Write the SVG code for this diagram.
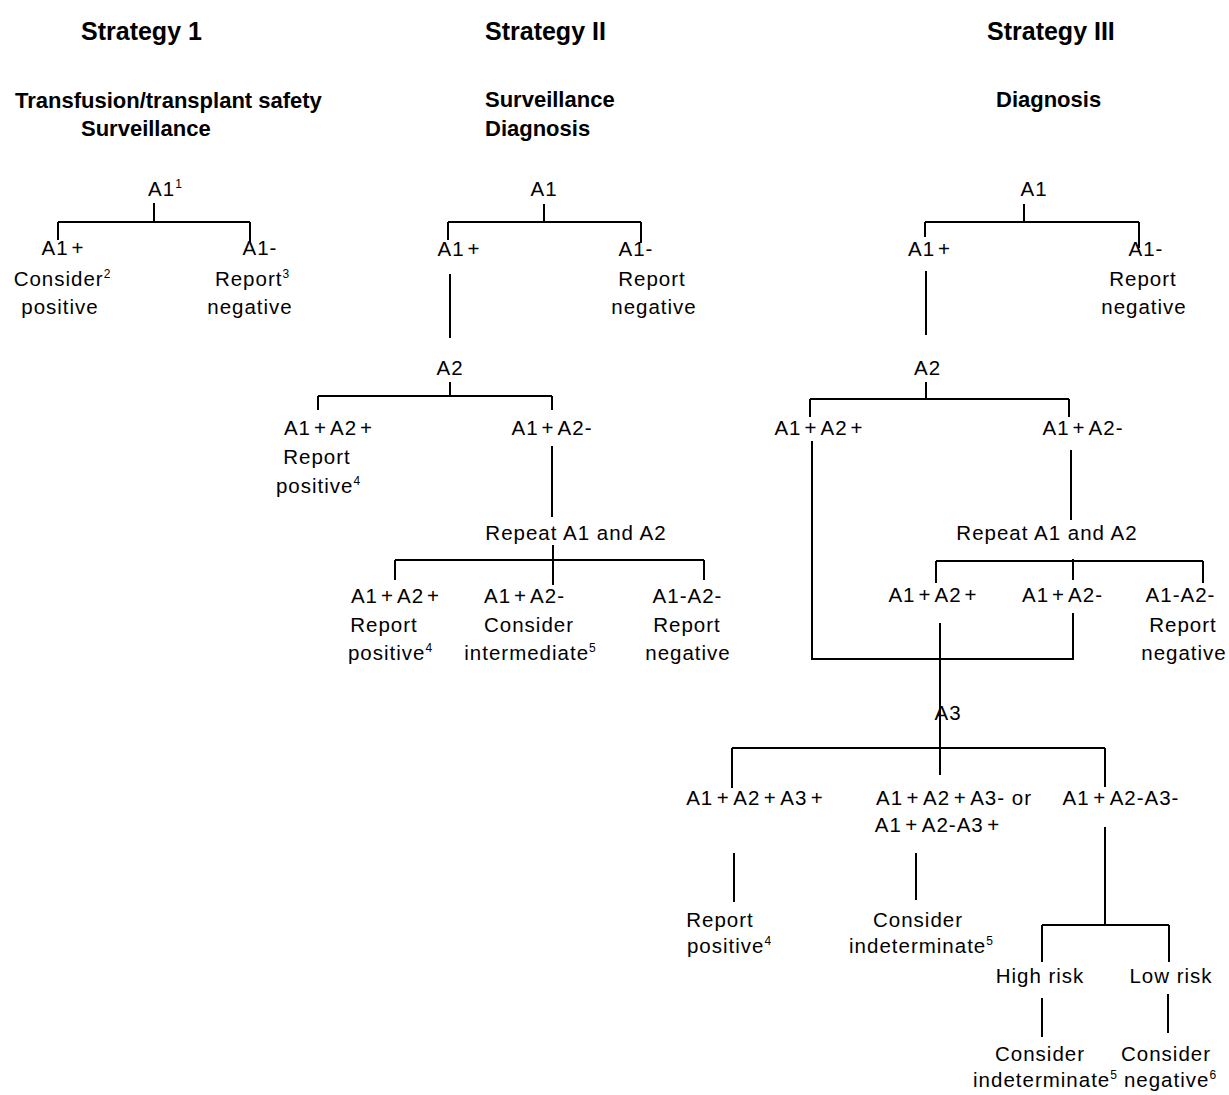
<svg xmlns="http://www.w3.org/2000/svg" width="1229" height="1095" viewBox="0 0 1229 1095">
<style>
text{font-family:"Liberation Sans",Arial,sans-serif;fill:#000}
.h{font-weight:bold;font-size:25px}
.s{font-weight:bold;font-size:22px}
.t{font-size:20.5px;letter-spacing:1px;text-anchor:middle}
.sup{font-size:12px;letter-spacing:0}
.c path{fill:none;stroke:#000;stroke-width:2}
</style>
<rect width="1229" height="1095" fill="#fff"/>
<g id="headers">
<text class="h" x="81" y="40">Strategy 1</text>
<text class="h" x="485" y="40">Strategy II</text>
<text class="h" x="987" y="40">Strategy III</text>
<text class="s" x="15" y="108">Transfusion/transplant safety</text>
<text class="s" x="81" y="136">Surveillance</text>
<text class="s" x="485" y="107">Surveillance</text>
<text class="s" x="485" y="136">Diagnosis</text>
<text class="s" x="996" y="107">Diagnosis</text>
</g>
<g class="c" id="connectors">
<path d="M154 203V222M58 222H250M58 222V240M250 222V242"/>
<path d="M544 204V222M448 222H641M448 222V240M641 222V243M450 274V338M450 382V396M318 396H552M318 396V410M552 396V410M552 446V517M553 545V585M395 560H704M395 560V580M704 560V580"/>
<path d="M1024 204V222M925 222H1139M925 222V237M1139 222V248M926 271V335M926 382V399M810 399H1069M810 399V417M1069 399V417M812 441V659H1073V613M1071 450V520M936 561H1203M936 561V583M1203 561V583M1073 559V580M940 623V775M732 748H1105M732 748V788M1105 748V787M734 853V902M916 853V900M1105 827V925M1042 925H1169M1042 925V962M1169 925V962M1042 998V1037M1168 994V1033"/>
</g>
<g id="s1-a1"><text class="t" x="165" y="196">A1<tspan class="sup" dy="-8">1</tspan></text></g>
<g id="s1-pos"><text class="t" x="63" y="255">A1<tspan dx="3">+</tspan></text><text class="t" x="62" y="286">Consider<tspan class="sup" dy="-8">2</tspan></text><text class="t" x="60" y="314">positive</text></g>
<g id="s1-neg"><text class="t" x="260" y="255">A1-</text><text class="t" x="252" y="286">Report<tspan class="sup" dy="-8">3</tspan></text><text class="t" x="250" y="314">negative</text></g>

<g id="s2-a1"><text class="t" x="544" y="196">A1</text></g>
<g id="s2-pos"><text class="t" x="459" y="256">A1<tspan dx="3">+</tspan></text></g>
<g id="s2-neg"><text class="t" x="636" y="256">A1-</text><text class="t" x="652" y="286">Report</text><text class="t" x="654" y="314">negative</text></g>
<g id="s2-a2"><text class="t" x="450" y="375">A2</text></g>
<g id="s2-pp"><text class="t" x="328.5" y="435">A1<tspan dx="3">+</tspan><tspan dx="3">A2</tspan><tspan dx="3">+</tspan></text><text class="t" x="317" y="464">Report</text><text class="t" x="318" y="493">positive<tspan class="sup" dy="-8">4</tspan></text></g>
<g id="s2-pm"><text class="t" x="552" y="435">A1<tspan dx="3">+</tspan><tspan dx="3">A2-</tspan></text></g>
<g id="s2-repeat"><text class="t" x="576" y="540">Repeat A1 and A2</text></g>
<g id="s2-r-pp"><text class="t" x="395.5" y="603">A1<tspan dx="3">+</tspan><tspan dx="3">A2</tspan><tspan dx="3">+</tspan></text><text class="t" x="384" y="632">Report</text><text class="t" x="390" y="660">positive<tspan class="sup" dy="-8">4</tspan></text></g>
<g id="s2-r-pm"><text class="t" x="524.5" y="603">A1<tspan dx="3">+</tspan><tspan dx="3">A2-</tspan></text><text class="t" x="529" y="632">Consider</text><text class="t" x="530" y="660">intermediate<tspan class="sup" dy="-8">5</tspan></text></g>
<g id="s2-r-mm"><text class="t" x="687.5" y="603">A1-A2-</text><text class="t" x="687" y="632">Report</text><text class="t" x="688" y="660">negative</text></g>

<g id="s3-a1"><text class="t" x="1034" y="196">A1</text></g>
<g id="s3-pos"><text class="t" x="929.5" y="256">A1<tspan dx="3">+</tspan></text></g>
<g id="s3-neg"><text class="t" x="1146" y="256">A1-</text><text class="t" x="1143" y="286">Report</text><text class="t" x="1144" y="314">negative</text></g>
<g id="s3-a2"><text class="t" x="927.5" y="375">A2</text></g>
<g id="s3-pp"><text class="t" x="819" y="435">A1<tspan dx="3">+</tspan><tspan dx="3">A2</tspan><tspan dx="3">+</tspan></text></g>
<g id="s3-pm"><text class="t" x="1083" y="435">A1<tspan dx="3">+</tspan><tspan dx="3">A2-</tspan></text></g>
<g id="s3-repeat"><text class="t" x="1047" y="540">Repeat A1 and A2</text></g>
<g id="s3-r-pp"><text class="t" x="933" y="602">A1<tspan dx="3">+</tspan><tspan dx="3">A2</tspan><tspan dx="3">+</tspan></text></g>
<g id="s3-r-pm"><text class="t" x="1062.5" y="602">A1<tspan dx="3">+</tspan><tspan dx="3">A2-</tspan></text></g>
<g id="s3-r-mm"><text class="t" x="1180.5" y="602">A1-A2-</text><text class="t" x="1183" y="632">Report</text><text class="t" x="1184" y="660">negative</text></g>
<g id="s3-a3"><text class="t" x="948" y="720">A3</text></g>
<g id="s3-ppp"><text class="t" x="755" y="805">A1<tspan dx="3.5">+</tspan><tspan dx="3.5">A2</tspan><tspan dx="3.5">+</tspan><tspan dx="3.5">A3</tspan><tspan dx="3.5">+</tspan></text></g>
<g id="s3-mixed"><text class="t" x="954" y="805">A1<tspan dx="3.5">+</tspan><tspan dx="3.5">A2</tspan><tspan dx="3.5">+</tspan><tspan dx="3.5">A3- or</tspan></text><text class="t" x="937.5" y="832">A1<tspan dx="3.5">+</tspan><tspan dx="3.5">A2-A3</tspan><tspan dx="3.5">+</tspan></text></g>
<g id="s3-pmm"><text class="t" x="1121" y="805">A1<tspan dx="3.5">+</tspan><tspan dx="3.5">A2-A3-</tspan></text></g>
<g id="s3-report-pos"><text class="t" x="720" y="927">Report</text><text class="t" x="729" y="953">positive<tspan class="sup" dy="-8">4</tspan></text></g>
<g id="s3-indet"><text class="t" x="918" y="927">Consider</text><text class="t" x="921" y="953">indeterminate<tspan class="sup" dy="-8">5</tspan></text></g>
<g id="s3-high"><text class="t" x="1040" y="983">High risk</text></g>
<g id="s3-low"><text class="t" x="1171" y="983">Low risk</text></g>
<g id="s3-high-res"><text class="t" x="1040" y="1061">Consider</text><text class="t" x="1045" y="1087">indeterminate<tspan class="sup" dy="-8">5</tspan></text></g>
<g id="s3-low-res"><text class="t" x="1166" y="1061">Consider</text><text class="t" x="1170" y="1087">negative<tspan class="sup" dy="-8">6</tspan></text></g>
</svg>
